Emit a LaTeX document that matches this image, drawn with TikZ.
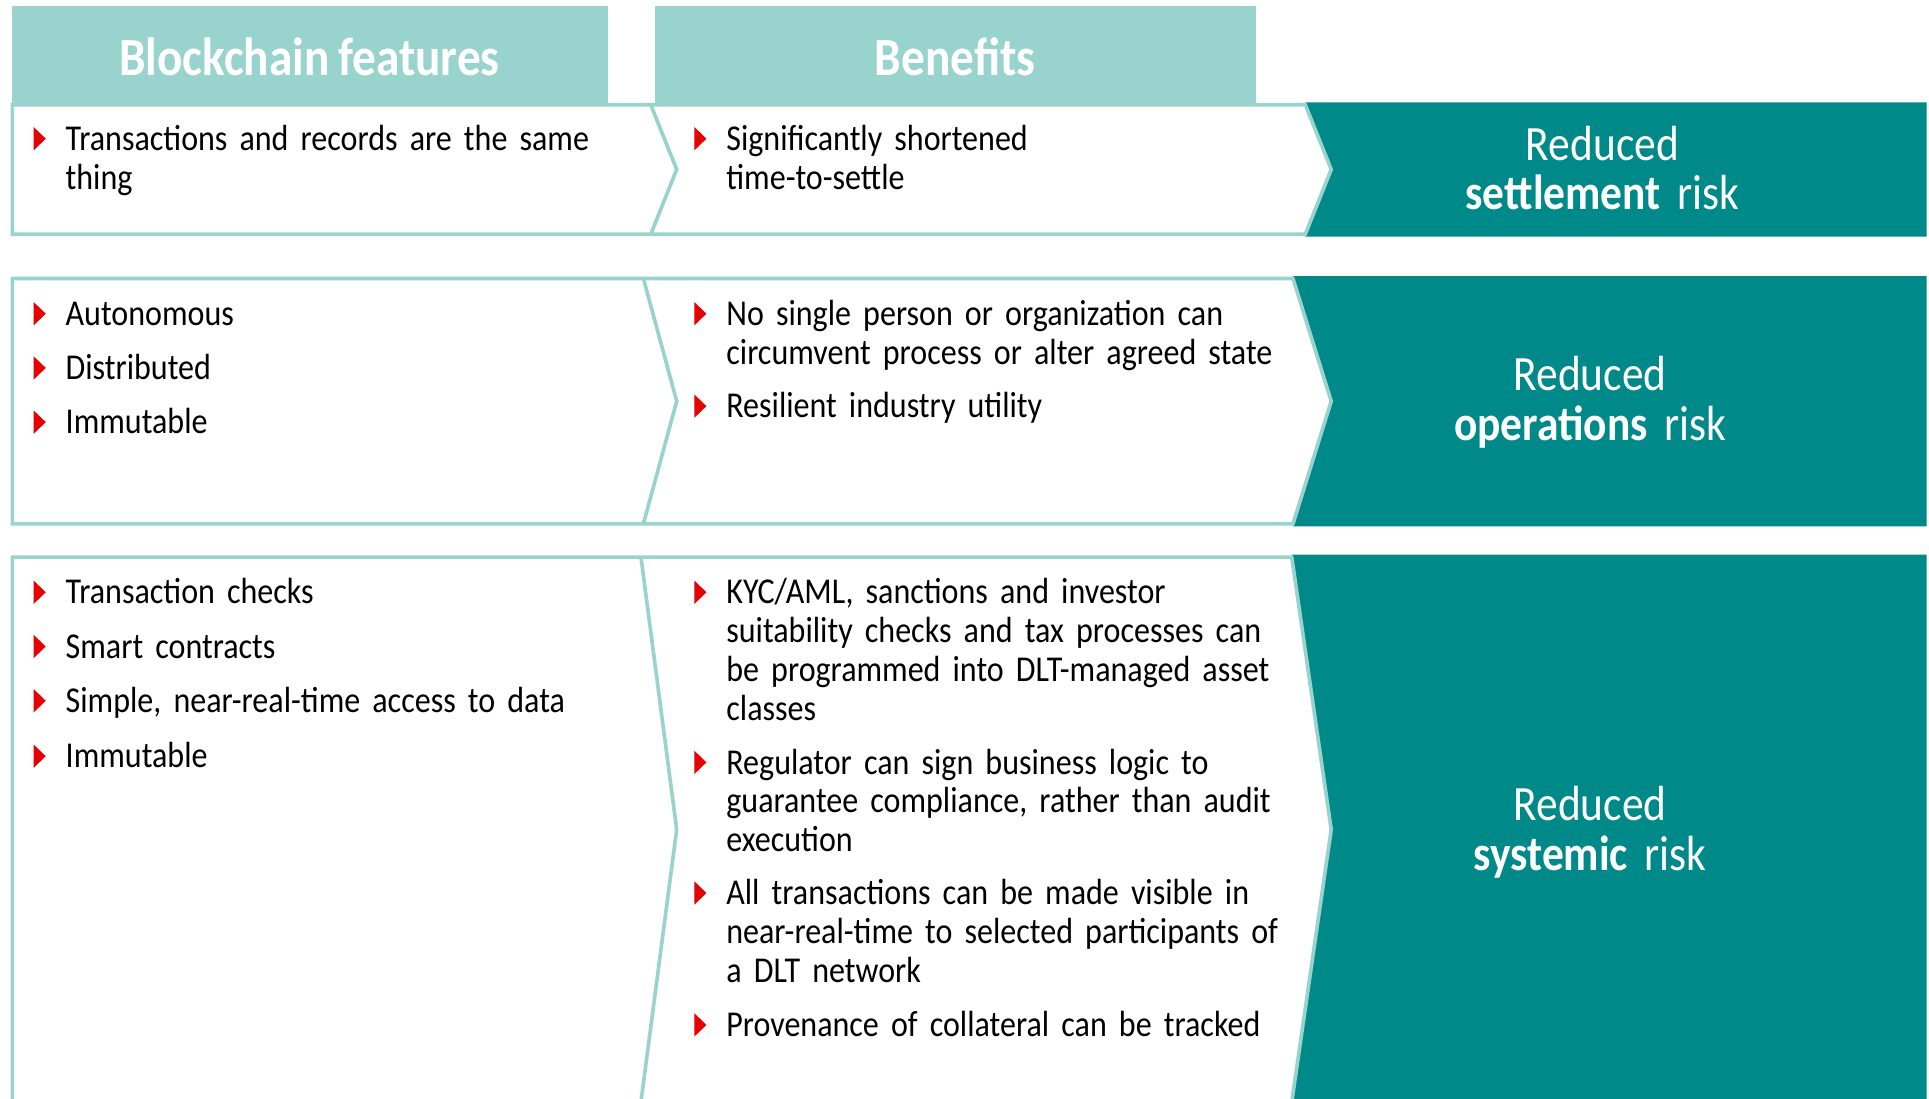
\documentclass[tikz,border=0pt]{standalone}
\usepackage{fontspec}
\setmainfont{Carlito}[FakeStretch=0.88,WordSpace=0.8]
\usepackage{tikz}
\usetikzlibrary{arrows}
\definecolor{head_teal}{RGB}{153,211,205}
\definecolor{risk_teal}{RGB}{0,137,137}
\definecolor{bullet_red}{RGB}{230,0,0}

\newcommand{\redmark}{\tikz[baseline=0pt]\fill[bullet_red] (0,0) -- (0,13.5pt) -- (7pt,6.75pt) -- cycle;}
\newcommand{\bitem}[1]{\makebox[18.5pt][l]{\redmark}\begin{tabular}[t]{@{}l@{}}#1\end{tabular}}

\begin{document}
\begin{tikzpicture}[x=0.025cm,y=-0.025cm]
    \tikzstyle{frame}=[draw=head_teal, line width=2.1pt, line join=miter]
    \tikzstyle{head}=[text=white, font=\fontsize{31}{34}\selectfont\bfseries]
    \tikzstyle{item}=[anchor=base west, inner sep=0pt, text width=13cm, align=left, font=\fontsize{21}{22.4}\selectfont]
    \tikzstyle{risk}=[anchor=base, inner sep=0pt, text width=9cm, align=center, text=white, font=\fontsize{28.5}{28.5}\selectfont]

    \useasboundingbox (0,0) rectangle (1565,891.6);
    \clip (0,0) rectangle (1565,891.6);

    % column heads
    \fill[head_teal] (10,5) rectangle (493,86);
    \fill[head_teal] (531,5) rectangle (1019,86);
    \node[head] (hf) at (251,46) {Blockchain features};
    \node[head] (hb) at (775,46) {Benefits};

    % row 1
    \fill[risk_teal] (1059,83) -- (1563,83) -- (1563,192) -- (1059,192) -- (1080,137.5) -- cycle;
    \draw[frame] (10,190) -- (10,85) -- (1059,85) -- (1080,137.5) -- (1059,190) -- cycle;
    \draw[frame] (528,85) -- (549,137.5) -- (528,190);

    % row 2
    \fill[risk_teal] (1049,224) -- (1563,224) -- (1563,427) -- (1049,427) -- (1080,325.5) -- cycle;
    \draw[frame] (10,425) -- (10,226) -- (1049,226) -- (1080,325.5) -- (1049,425) -- cycle;
    \draw[frame] (522,226) -- (549,325.5) -- (522,425);

    % row 3
    \fill[risk_teal] (1048,450) -- (1563,450) -- (1563,900) -- (1048,900) -- (1080,673) -- cycle;
    \draw[frame] (10,900) -- (10,452) -- (1048,452) -- (1080,673) -- (1048,894);
    \draw[frame] (520,452) -- (549,673) -- (520,894);

    % features
    \node[item] (f1) at (27,122) {\bitem{Transactions and records are the same\\thing}};
    \node[item] (f2) at (27,264) {\bitem{Autonomous}};
    \node[item] (f3) at (27,308) {\bitem{Distributed}};
    \node[item] (f4) at (27,352) {\bitem{Immutable}};
    \node[item] (f5) at (27,490) {\bitem{Transaction checks}};
    \node[item] (f6) at (27,534) {\bitem{Smart contracts}};
    \node[item] (f7) at (27,578) {\bitem{Simple, near-real-time access to data}};
    \node[item] (f8) at (27,623) {\bitem{Immutable}};

    % benefits
    \node[item] (b1) at (563,122) {\bitem{Significantly shortened\\time-to-settle}};
    \node[item] (b2) at (563,264) {\bitem{No single person or organization can\\circumvent process or alter agreed state}};
    \node[item] (b3) at (563,339) {\bitem{Resilient industry utility}};
    \node[item] (b4) at (563,490) {\bitem{KYC/AML, sanctions and investor\\suitability checks and tax processes can\\be programmed into DLT-managed asset\\classes}};
    \node[item] (b5) at (563,628) {\bitem{Regulator can sign business logic to\\guarantee compliance, rather than audit\\execution}};
    \node[item] (b6) at (563,734) {\bitem{All transactions can be made visible in\\near-real-time to selected participants of\\a DLT network}};
    \node[item] (b7) at (563,841) {\bitem{Provenance of collateral can be tracked}};

    % risks
    \node[risk] (r1) at (1300,130) {Reduced\\\textbf{settlement} risk};
    \node[risk] (r2) at (1290,317) {Reduced\\\textbf{operations} risk};
    \node[risk] (r3) at (1290,666) {Reduced\\\textbf{systemic} risk};
\end{tikzpicture}
\end{document}
